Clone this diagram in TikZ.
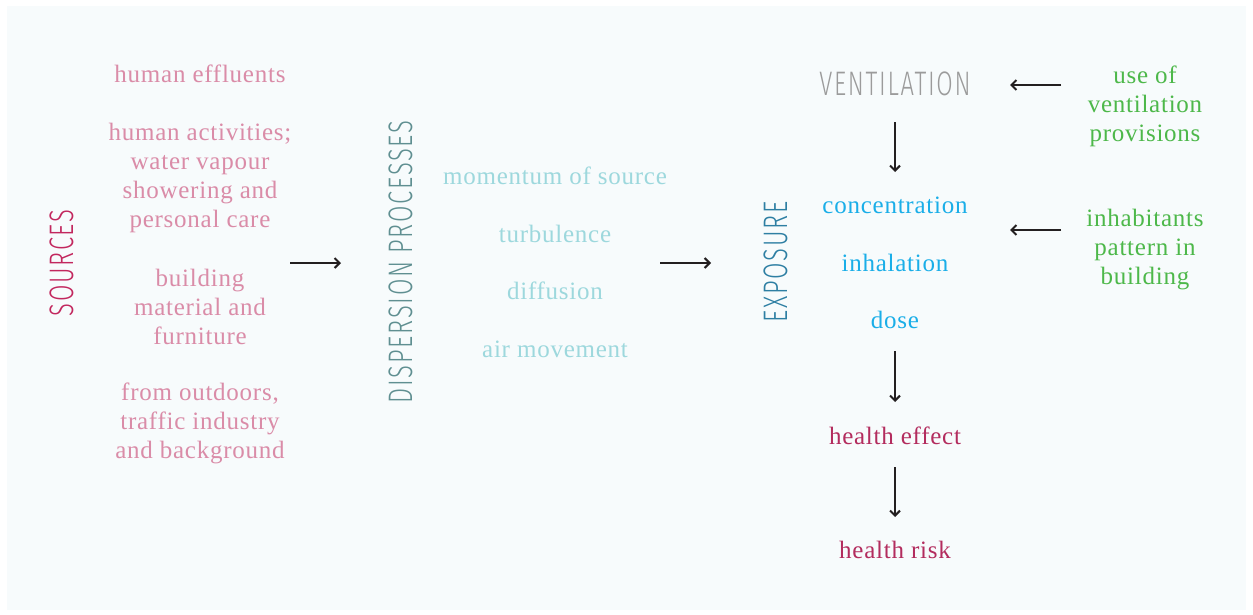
\documentclass[tikz,border=0pt]{standalone}
\usepackage{fontspec}
\setmainfont{Liberation Serif}[LetterSpace=3]
\newfontfamily\headfont{Fira Sans Light}[FakeStretch=0.7,LetterSpace=5]
\usetikzlibrary{arrows.meta}
\definecolor{bgc}{HTML}{F7FBFC}
\definecolor{srcpink}{HTML}{DA8CA8}
\definecolor{srchead}{HTML}{C2275E}
\definecolor{disphead}{HTML}{5F8F91}
\definecolor{dispitem}{HTML}{9DD8DD}
\definecolor{exphead}{HTML}{2E7FA3}
\definecolor{expitem}{HTML}{1AAEE8}
\definecolor{venthead}{HTML}{9B9B9B}
\definecolor{greenitem}{HTML}{4DB84A}
\definecolor{healthc}{HTML}{B32C5E}
\definecolor{arrc}{HTML}{231F20}
\begin{document}
\begin{tikzpicture}[x=1pt,y=-1pt,
  item/.style={inner sep=0pt,align=center,font=\fontsize{25}{29}\selectfont},
  head/.style={inner sep=0pt,font=\headfont\fontsize{34}{36}\selectfont},
  arr/.style={draw=arrc,line width=2.1pt,-{Straight Barb[length=5pt,width=10pt,line width=2pt]}}]
\useasboundingbox (0,0) rectangle (1253,614);
\fill[bgc] (7,6) rectangle (1246,610);
% headings
\node[head,text=srchead,rotate=90] (src) at (62,263) {SOURCES};
\node[head,text=disphead,rotate=90] (disp) at (401,262) {DISPERSION PROCESSES};
\node[head,text=exphead,rotate=90] (exp) at (776,262) {EXPOSURE};
\node[head,text=venthead] (vent) at (895,84) {VENTILATION};
% sources
\node[item,text=srcpink] (s1) at (200,74) {human effluents};
\node[item,text=srcpink] (s2) at (200,178) {human activities;\\water vapour\\showering and\\personal care};
\node[item,text=srcpink] (s3) at (200,307) {building\\material and\\furniture};
\node[item,text=srcpink] (s4) at (200,423) {from outdoors,\\traffic industry\\and background};
% dispersion
\node[item,text=dispitem] (d1) at (555,176) {momentum of source};
\node[item,text=dispitem] (d2) at (555,234) {turbulence};
\node[item,text=dispitem] (d3) at (555,291) {diffusion};
\node[item,text=dispitem] (d4) at (555,349) {air movement};
% exposure
\node[item,text=expitem] (e1) at (895,205) {concentration};
\node[item,text=expitem] (e2) at (895,263) {inhalation};
\node[item,text=expitem] (e3) at (895,320) {dose};
% green
\node[item,text=greenitem] (g1) at (1145,106) {use of\\ventilation\\provisions};
\node[item,text=greenitem] (g2) at (1145,250) {inhabitants\\pattern in\\building};
% health
\node[item,text=healthc] (h1) at (895,436) {health effect};
\node[item,text=healthc] (h2) at (895,550) {health risk};
% arrow ends
\coordinate (a1s) at (290,263); \coordinate (a1e) at (341,263);
\coordinate (a2s) at (660,263); \coordinate (a2e) at (711,263);
\coordinate (a3s) at (1061,85); \coordinate (a3e) at (1010,85);
\coordinate (a4s) at (1061,230); \coordinate (a4e) at (1010,230);
\coordinate (a5s) at (895,122); \coordinate (a5e) at (895,172);
\coordinate (a6s) at (895,351); \coordinate (a6e) at (895,402);
\coordinate (a7s) at (895,467); \coordinate (a7e) at (895,517);
\draw[arr] (a1s) -- (a1e);
\draw[arr] (a2s) -- (a2e);
\draw[arr] (a3s) -- (a3e);
\draw[arr] (a4s) -- (a4e);
\draw[arr] (a5s) -- (a5e);
\draw[arr] (a6s) -- (a6e);
\draw[arr] (a7s) -- (a7e);
\end{tikzpicture}
\end{document}
